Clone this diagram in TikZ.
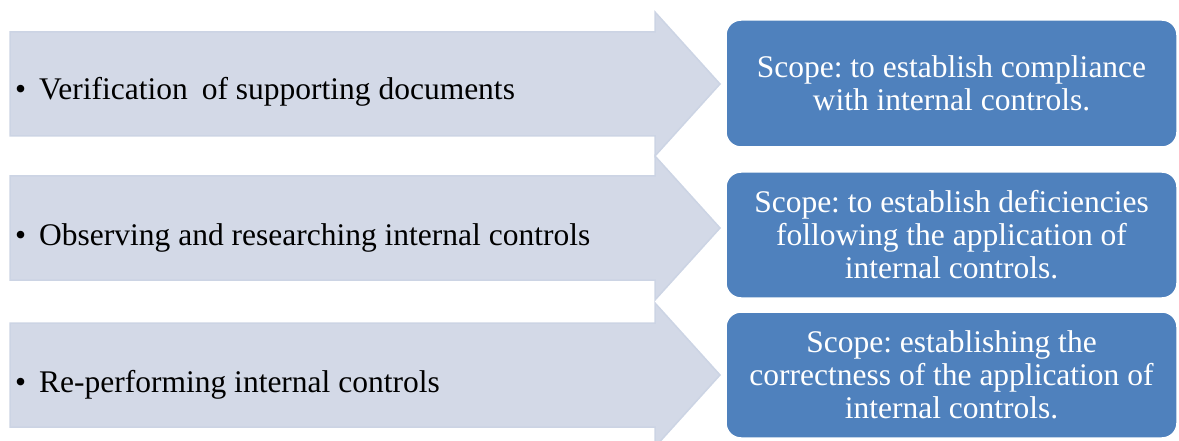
\documentclass[tikz,border=0pt]{standalone}
\usepackage{fontspec}
\setmainfont{Liberation Serif}
\frenchspacing
\definecolor{arrowfill}{RGB}{211,217,231}
\definecolor{arrowline}{RGB}{204,212,228}
\definecolor{scopeblue}{RGB}{79,129,189}
\tikzset{
  stagearrow/.style={fill=arrowfill, draw=arrowline, line width=1.5pt, line join=miter},
  stagetext/.style={anchor=base west, inner sep=0pt, font=\fontsize{31.5}{33}\selectfont, text=black},
  scopebox/.style={rectangle, rounded corners=15pt, fill=scopeblue, draw=white, line width=1.5pt,
    minimum width=451pt, inner sep=0pt, align=center, text=white,
    font=\fontsize{31.5}{33}\selectfont},
}
\newcommand{\bul}{\makebox[24pt][l]{•}}
\begin{document}
\begin{tikzpicture}[x=1pt, y=-1pt]
\useasboundingbox (0,0) rectangle (1179,441);
% three block arrows, centred at y = 84, 228 and 375
\foreach \c in {84,228,375}{
  \draw[stagearrow] (10,\c-52) -- (655,\c-52) -- (655,\c-72) -- (720,\c)
        -- (655,\c+72) -- (655,\c+52) -- (10,\c+52) -- cycle;
}
\node[stagetext] (s1) at (15,100) {\bul Verification\hspace{6pt} of supporting documents};
\node[stagetext] (s2) at (15,245) {\bul Observing and researching internal controls};
\node[stagetext] (s3) at (15,392) {\bul Re-performing internal controls};
% scope boxes
\node[scopebox, minimum height=127pt] (b1) at (951.5,83.5)
  {Scope: to establish compliance\\with internal controls.};
\node[scopebox, minimum height=126pt] (b2) at (951.5,235)
  {Scope: to establish deficiencies\\following the application of\\internal controls.};
\node[scopebox, minimum height=126pt] (b3) at (951.5,375)
  {Scope: establishing the\\correctness of the application of\\internal controls.};
\end{tikzpicture}
\end{document}
